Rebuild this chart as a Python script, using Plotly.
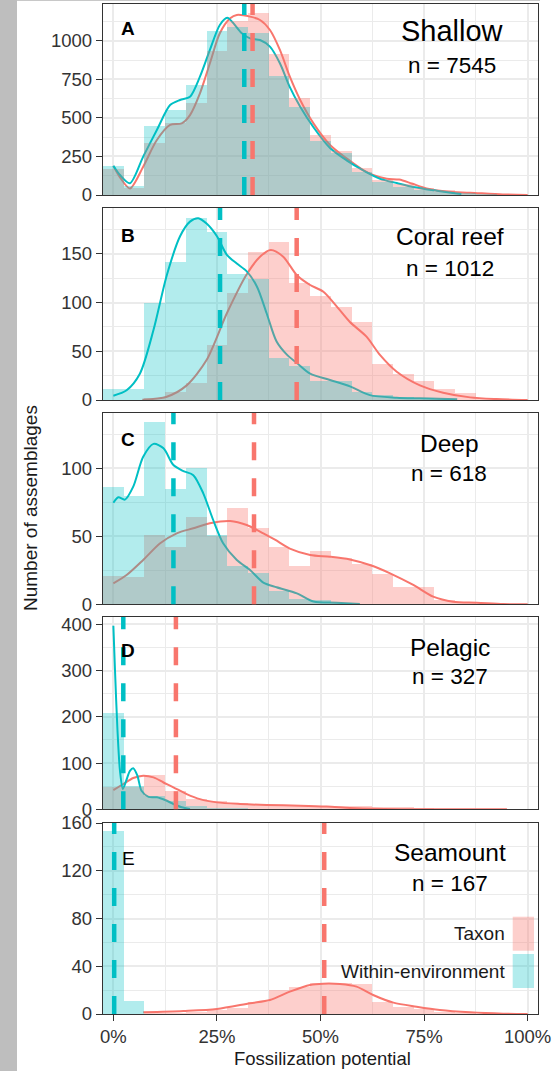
import plotly.graph_objects as go

# ---------------- data ----------------
bin_centers = [0.00, 0.05, 0.10, 0.15, 0.20, 0.25, 0.30, 0.35, 0.40, 0.45, 0.50,
               0.55, 0.60, 0.65, 0.70, 0.75, 0.80, 0.85, 0.90, 0.95, 1.00]

panel_letters = ["A", "B", "C", "D", "E"]
panel_names = ["Shallow", "Coral reef", "Deep", "Pelagic", "Seamount"]
panel_n = [7545, 1012, 618, 327, 167]

# histogram counts (Taxon)
taxon_A = [170, 45, 340, 470, 595, 935, 1130, 1184, 913, 628, 390, 285, 173, 95, 70, 45, 35, 20, 12, 5, 2]
taxon_B = [0, 0, 2, 8, 17, 56, 110, 152, 162, 120, 107, 95, 80, 37, 27, 20, 11, 7, 2, 0, 0]
taxon_C = [21, 20, 51, 42, 64, 50, 71, 56, 42, 28, 39, 34, 30, 22, 13, 13, 3, 1, 0, 0, 0]
taxon_D = [49, 49, 74, 40, 22, 19, 13, 9, 9, 8, 8, 8, 7, 6, 5, 2, 1, 0, 0, 0, 0]
taxon_E = [0, 0, 1, 1, 2, 3, 5, 10, 20, 23, 26, 26, 25, 10, 6, 4, 2, 1, 0, 0, 0]

# histogram counts (Within-environment)
within_A = [190, 58, 448, 552, 714, 1065, 1093, 1050, 773, 573, 353, 275, 151, 85, 55, 35, 20, 10, 5, 0, 0]
within_B = [11, 11, 100, 142, 187, 172, 129, 124, 43, 35, 19, 19, 8, 5, 3, 2, 1, 0, 0, 0, 0]
within_C = [86, 80, 134, 85, 100, 51, 28, 23, 10, 4, 3, 1, 0, 0, 0, 0, 0, 0, 0, 0, 0]
within_D = [208, 50, 29, 19, 8, 3, 2, 0, 0, 0, 0, 0, 0, 0, 0, 0, 0, 0, 0, 0, 0]
within_E = [153, 11, 0, 0, 0, 0, 0, 0, 0, 0, 0, 0, 0, 0, 0, 0, 0, 0, 0, 0, 0]

# density curves scaled to counts (Taxon)
dens_taxon_A_x = [0.0, 0.016, 0.04, 0.072, 0.105, 0.137, 0.165, 0.185, 0.209, 0.233, 0.257, 0.282, 0.298,
                  0.33, 0.354, 0.378, 0.402, 0.426, 0.451, 0.483, 0.523, 0.563, 0.603, 0.627, 0.66, 0.69,
                  0.72, 0.756, 0.804, 0.861, 0.94, 1.0]
dens_taxon_A_y = [188, 115, 43, 184, 357, 455, 465, 519, 660, 855, 1050, 1147, 1169,
                  1158, 1136, 1071, 942, 768, 617, 465, 325, 238, 162, 130, 105, 100,
                  75, 43, 22, 15, 4, 0]
dens_taxon_B_x = [0.07, 0.129, 0.177, 0.225, 0.274, 0.322, 0.354, 0.38, 0.41, 0.443, 0.475, 0.507, 0.539,
                  0.571, 0.611, 0.644, 0.684, 0.74, 0.796, 0.861, 0.925, 1.0]
dens_taxon_B_y = [0.3, 3.4, 15, 41, 89, 129, 147, 154, 147, 128, 118, 111, 96,
                  80, 65, 46, 29, 15, 7.5, 2.7, 1, 0]
dens_taxon_C_x = [0.0, 0.032, 0.072, 0.113, 0.153, 0.193, 0.233, 0.282, 0.322, 0.362, 0.39, 0.426, 0.475,
                  0.523, 0.571, 0.619, 0.668, 0.724, 0.772, 0.82, 0.877, 0.941, 1.0]
dens_taxon_C_y = [15.4, 21.5, 32.6, 44.9, 52.2, 55.9, 59.6, 61.3, 58.3, 52.2, 47.5, 41, 36.3,
                  35, 33, 28.9, 22.8, 14.2, 5.6, 1.9, 1.2, 0.2, 0]
dens_taxon_D_x = [0.0, 0.024, 0.048, 0.072, 0.097, 0.121, 0.145, 0.177, 0.209, 0.25, 0.306, 0.37, 0.451,
                  0.515, 0.571, 0.63, 0.70, 0.80, 0.95]
dens_taxon_D_y = [41.7, 54.7, 67.7, 72.7, 69, 58, 47.6, 33, 22, 15, 11.5, 9.3, 7.9,
                  6, 3, 1, 0.3, 0.1, 0]
dens_taxon_E_x = [0.072, 0.169, 0.25, 0.33, 0.378, 0.426, 0.475, 0.507, 0.547, 0.587, 0.627, 0.676, 0.732,
                  0.788, 0.861, 0.941, 1.0]
dens_taxon_E_y = [1.4, 2.5, 4.2, 9, 11.7, 18.7, 24.3, 25.4, 25.1, 22.9, 15.9, 9.5, 6.1,
                  3.3, 1.4, 0.3, 0]

# density curves scaled to counts (Within-environment)
dens_within_A_x = [0.0, 0.016, 0.04, 0.072, 0.105, 0.137, 0.161, 0.185, 0.209, 0.233, 0.257, 0.275, 0.31,
                   0.33, 0.354, 0.378, 0.402, 0.426, 0.451, 0.483, 0.523, 0.563, 0.603, 0.644, 0.684,
                   0.724, 0.78, 0.84]
dens_within_A_y = [190, 130, 76, 249, 422, 584, 617, 638, 768, 942, 1104, 1150, 1050,
                   1017, 1006, 963, 855, 700, 573, 440, 305, 225, 160, 105, 78,
                   52, 28, 6]
dens_within_B_x = [0.0, 0.032, 0.064, 0.097, 0.129, 0.161, 0.185, 0.205, 0.225, 0.25, 0.274, 0.298, 0.322,
                   0.347, 0.37, 0.394, 0.42, 0.443, 0.475, 0.523, 0.571, 0.619, 0.684, 0.74, 0.83]
dens_within_B_y = [4.4, 10, 27, 72, 128, 168, 183, 186.5, 181, 168, 149, 140, 132,
                   116, 89, 60, 46, 38, 27, 20.5, 14, 5, 2.4, 1.7, 0.7]
dens_within_C_x = [0.0, 0.012, 0.028, 0.048, 0.072, 0.097, 0.121, 0.145, 0.169, 0.193, 0.217, 0.241, 0.265,
                   0.298, 0.33, 0.362, 0.394, 0.443, 0.483, 0.539, 0.595]
dens_within_C_y = [74.7, 78.7, 77, 86.5, 108.5, 118, 114.7, 102.4, 98, 95, 81.6, 62, 44.9,
                   32.6, 25.2, 16, 12.5, 8, 2, 1.2, 0.2]
dens_within_D_x = [0.0, 0.004, 0.010, 0.016, 0.023, 0.031, 0.040, 0.048, 0.058, 0.068, 0.085, 0.105, 0.125,
                   0.145, 0.165, 0.185]
dens_within_D_y = [397, 300, 170, 83, 44, 62, 83, 89, 73, 40, 27, 26, 20,
                   11.5, 4.3, 0.6]
dens_within_E_x = []
dens_within_E_y = []

# mean fossilization potential (dashed lines)
mean_taxon = [0.336, 0.4425, 0.3395, 0.151, 0.509]
mean_within = [0.316, 0.2575, 0.145, 0.024, 0.002]

# axis ticks
x_tickvals = [0, 0.25, 0.5, 0.75, 1.0]
x_ticktext = ["0%", "25%", "50%", "75%", "100%"]
y_ticks_A = [0, 250, 500, 750, 1000]
y_ticks_B = [0, 50, 100, 150]
y_ticks_C = [0, 50, 100]
y_ticks_D = [0, 100, 200, 300, 400]
y_ticks_E = [0, 40, 80, 120, 160]
y_max = [1240, 197, 140.7, 416, 160]

legend_labels = ["Taxon", "Within-environment"]

# ---------------- styling ----------------
PINK = "#F8766D"
CYAN = "#00BFC4"
PINK_FILL = "rgba(248,118,109,0.35)"
CYAN_FILL = "rgba(0,191,196,0.30)"
FONT = "Liberation Sans, Arial, sans-serif"
TXT = "#1a1a1a"
TICKTXT = "#333333"
GRID = "#EBEBEB"
BORDER = "#333333"

W, H = 553, 1071
ML, MR, MT, MB = 103, 15, 4, 57
PW = W - ML - MR
PH = H - MT - MB
tops = [4, 208, 413, 617, 823]
bots = [195, 400, 604.3, 809.3, 1014]


def fy(y):
    return (H - MB - y) / PH


def fx(x):
    return (x - ML) / PW


taxon = [taxon_A, taxon_B, taxon_C, taxon_D, taxon_E]
within = [within_A, within_B, within_C, within_D, within_E]
dtx = [dens_taxon_A_x, dens_taxon_B_x, dens_taxon_C_x, dens_taxon_D_x, dens_taxon_E_x]
dty = [dens_taxon_A_y, dens_taxon_B_y, dens_taxon_C_y, dens_taxon_D_y, dens_taxon_E_y]
dwx = [dens_within_A_x, dens_within_B_x, dens_within_C_x, dens_within_D_x, dens_within_E_x]
dwy = [dens_within_A_y, dens_within_B_y, dens_within_C_y, dens_within_D_y, dens_within_E_y]
yticks = [y_ticks_A, y_ticks_B, y_ticks_C, y_ticks_D, y_ticks_E]

fig = go.Figure()
layout = {}
shapes = []
annotations = []

for i in range(5):
    k = i + 1
    xa = "x" if k == 1 else f"x{k}"
    ya = "y" if k == 1 else f"y{k}"
    yo = f"y{k + 5}"
    # density lines in base subplot (drawn beneath the translucent bars)
    fig.add_trace(go.Scatter(x=dtx[i], y=dty[i], xaxis=xa, yaxis=ya, mode="lines",
                             line=dict(color=PINK, width=2, shape="spline", smoothing=0.8),
                             showlegend=False, hoverinfo="skip"))
    if dwx[i]:
        fig.add_trace(go.Scatter(x=dwx[i], y=dwy[i], xaxis=xa, yaxis=ya, mode="lines",
                                 line=dict(color=CYAN, width=2, shape="spline", smoothing=0.8),
                                 showlegend=False, hoverinfo="skip"))
    # histograms in overlaid subplot
    fig.add_trace(go.Bar(x=bin_centers, y=taxon[i], width=0.05, xaxis=xa, yaxis=yo,
                         marker=dict(color=PINK_FILL, line=dict(width=0)),
                         showlegend=False, hoverinfo="skip"))
    fig.add_trace(go.Bar(x=bin_centers, y=within[i], width=0.05, xaxis=xa, yaxis=yo,
                         marker=dict(color=CYAN_FILL, line=dict(width=0)),
                         showlegend=False, hoverinfo="skip"))

    yt = yticks[i]
    step = yt[1] - yt[0]
    minor_y = [t + step / 2 for t in yt if t + step / 2 < y_max[i]]

    layout["xaxis" if k == 1 else f"xaxis{k}"] = dict(
        domain=[0, 1], anchor=ya, range=[-0.025, 1.025], automargin=False,
        tickmode="array", tickvals=x_tickvals, ticktext=x_ticktext,
        showticklabels=(k == 5), ticks="outside" if k == 5 else "",
        ticklen=6, tickwidth=1.3, tickcolor=BORDER,
        tickfont=dict(family=FONT, size=18.5, color=TICKTXT),
        showgrid=True, gridcolor=GRID, gridwidth=2,
        minor=dict(tickmode="array", tickvals=[0.125, 0.375, 0.625, 0.875],
                   showgrid=True, gridcolor=GRID, gridwidth=1.1, ticks=""),
        showline=True, mirror=True, linecolor=BORDER, linewidth=1.3,
        zeroline=False, fixedrange=True)
    layout["yaxis" if k == 1 else f"yaxis{k}"] = dict(
        domain=[fy(bots[i]), fy(tops[i])], anchor=xa, range=[0, y_max[i]], automargin=False,
        tickmode="array", tickvals=yt, ticks="outside", ticklen=6, tickwidth=1.3,
        tickcolor=BORDER, tickfont=dict(family=FONT, size=18.5, color=TICKTXT),
        showgrid=True, gridcolor=GRID, gridwidth=2,
        minor=dict(tickmode="array", tickvals=minor_y, showgrid=True,
                   gridcolor=GRID, gridwidth=1.1, ticks=""),
        showline=True, mirror=True, linecolor=BORDER, linewidth=1.3,
        zeroline=False, fixedrange=True)
    layout[f"yaxis{k + 5}"] = dict(overlaying=ya, anchor=xa, range=[0, y_max[i]], automargin=False,
                                   visible=False, showgrid=False, fixedrange=True)

    # dashed mean lines
    for m, c in ((mean_taxon[i], PINK), (mean_within[i], CYAN)):
        shapes.append(dict(type="line", xref=xa, yref=f"{ya} domain", x0=m, x1=m, y0=0, y1=1,
                           line=dict(color=c, width=4.5, dash="18px,18px"), layer="above"))

# panel texts
letter_pos = [(128, 28), (128, 236), (128, 439), (128, 650), (128, 858)]
title_pos = [(452, 31), (450, 237), (449, 443), (450, 647), (450, 852)]
n_pos = [(452, 65), (450, 268), (449, 474), (450, 677), (450, 883)]
for i in range(5):
    lx, ly = letter_pos[i]
    txt = panel_letters[i] if i == 4 else f"<b>{panel_letters[i]}</b>"
    annotations.append(dict(text=txt, xref="paper", yref="paper", x=fx(lx), y=fy(ly),
                            xanchor="center", yanchor="middle", showarrow=False,
                            font=dict(family=FONT, size=19, color="#000000")))
    tx, ty = title_pos[i]
    annotations.append(dict(text=panel_names[i], xref="paper", yref="paper", x=fx(tx), y=fy(ty),
                            xanchor="center", yanchor="middle", showarrow=False,
                            font=dict(family=FONT, size=29 if i == 0 else 24.5, color="#000000")))
    nx, ny = n_pos[i]
    annotations.append(dict(text=f"n = {panel_n[i]}", xref="paper", yref="paper", x=fx(nx), y=fy(ny),
                            xanchor="center", yanchor="middle", showarrow=False,
                            font=dict(family=FONT, size=22.5, color="#000000")))

# legend (inside panel E)
leg_fill = [PINK_FILL, CYAN_FILL]
leg_y = [(916.7, 950.7), (954, 988)]
for j in range(2):
    y0, y1 = leg_y[j]
    shapes.append(dict(type="rect", xref="paper", yref="paper", x0=fx(512.7), x1=fx(534),
                       y0=fy(y1), y1=fy(y0), fillcolor=leg_fill[j], line=dict(width=0), layer="above"))
    annotations.append(dict(text=legend_labels[j], xref="paper", yref="paper", x=fx(507),
                            y=fy((y0 + y1) / 2), xanchor="right", yanchor="middle", showarrow=False,
                            font=dict(family=FONT, size=19, color=TXT)))

# axis titles
annotations.append(dict(text="Number of assemblages", xref="paper", yref="paper", x=fx(30), y=fy(508),
                        xanchor="center", yanchor="middle", textangle=-90, showarrow=False,
                        font=dict(family=FONT, size=19, color=TXT)))
annotations.append(dict(text="Fossilization potential", xref="paper", yref="paper", x=fx(322), y=fy(1058),
                        xanchor="center", yanchor="middle", showarrow=False,
                        font=dict(family=FONT, size=18.5, color=TXT)))

# grey strip at the left edge and thin line at top
shapes.append(dict(type="rect", xref="paper", yref="paper", x0=fx(0), x1=fx(17),
                   y0=fy(H + 5), y1=fy(-5), fillcolor="#BEBEBE", line=dict(width=0), layer="below"))
shapes.append(dict(type="line", xref="paper", yref="paper", x0=fx(17), x1=fx(540),
                   y0=fy(0.5), y1=fy(0.5), line=dict(color="#C8C8C8", width=1), layer="below"))

fig.update_layout(
    width=W, height=H,
    margin=dict(l=ML, r=MR, t=MT, b=MB, pad=0, autoexpand=False),
    paper_bgcolor="white", plot_bgcolor="white",
    barmode="overlay", bargap=0,
    showlegend=False,
    shapes=shapes, annotations=annotations,
    font=dict(family=FONT, color=TXT),
    **layout,
)

fig.write_html("out.html", config={"displayModeBar": False, "responsive": False},
               post_script="document.body.style.margin='0px';document.body.style.padding='0px';"
                           "document.body.style.overflow='hidden';"
                           "document.documentElement.style.overflow='hidden';")
